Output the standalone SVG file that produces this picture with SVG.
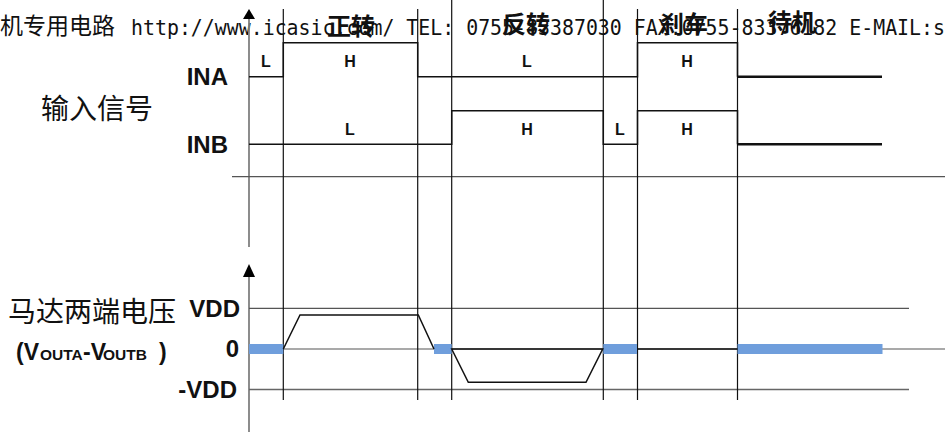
<svg xmlns="http://www.w3.org/2000/svg" width="945" height="432" viewBox="0 0 945 432">
<style>
.wm{font-family:"DejaVu Sans Mono","Liberation Mono",monospace;font-size:22px;fill:#111}
.wmc{font-family:"Noto Sans CJK SC",sans-serif;font-size:23px;fill:#111}
.hdr{font-family:"Noto Sans CJK SC",sans-serif;font-size:24px;font-weight:bold;fill:#111;text-anchor:middle}
.cjk{font-family:"Noto Sans CJK SC",sans-serif;font-size:28px;fill:#111}
.lbl{font-family:"Liberation Sans",Arial,sans-serif;font-weight:bold;font-size:24px;fill:#111;text-anchor:end}
.lv{font-family:"Liberation Sans",Arial,sans-serif;font-weight:bold;font-size:16px;fill:#111;text-anchor:middle}
.sub{font-family:"Liberation Sans",Arial,sans-serif;font-weight:bold;fill:#111}
.axis{stroke:#808080;stroke-width:1.8;fill:none}
.grid{stroke:#555;stroke-width:1.2;fill:none}
.vl{stroke:#111;stroke-width:1.2;fill:none}
.wave{stroke:#111;stroke-width:1.5;fill:none;stroke-linejoin:miter}
.wave2{stroke:#111;stroke-width:2.4;fill:none}
.bar{stroke:#6f9edc;stroke-width:10;fill:none}
</style>
<g id="watermark">
<text class="wmc" x="0" y="34">机专用电路</text>
<text class="wm" x="131" y="35" textLength="814" lengthAdjust="spacingAndGlyphs">http://www.icasic.com/ TEL: 0755-83387030 FAX:0755-83376182 E-MAIL:s</text>
</g>
<g id="headers">
<text class="hdr" x="351" y="35">正转</text>
<text class="hdr" x="526" y="33">反转</text>
<text class="hdr" x="684" y="33">刹车</text>
<text class="hdr" x="792" y="31">待机</text>
</g>
<g id="axes">
<line class="axis" x1="249" y1="247" x2="249" y2="17"/>
<path d="M243,19 L249,9 L255,19 Z" fill="#000"/>
<line class="axis" x1="249" y1="432" x2="249" y2="274"/>
<path d="M243,277 L249,264 L255,277 Z" fill="#000"/>
<line class="grid" x1="232" y1="176.7" x2="945" y2="176.7"/>
<line class="grid" x1="249" y1="308.3" x2="909" y2="308.3"/>
<line class="grid" x1="249" y1="349" x2="945" y2="349"/>
<line class="grid" x1="249" y1="389.5" x2="909" y2="389.5" style="stroke-width:1.6;stroke:#666"/>
</g>
<g id="phase-lines">
<line class="vl" x1="283.3" y1="9" x2="283.3" y2="400"/>
<line class="vl" x1="417.7" y1="9" x2="417.7" y2="400"/>
<line class="vl" x1="451.7" y1="0" x2="451.7" y2="400"/>
<line class="vl" x1="603.3" y1="0" x2="603.3" y2="400"/>
<line class="vl" x1="637.5" y1="9" x2="637.5" y2="400"/>
<line class="vl" x1="737.5" y1="9" x2="737.5" y2="400"/>
</g>
<g id="input-labels">
<text class="cjk" x="41" y="119">输入信号</text>
<text class="lbl" x="228" y="85">INA</text>
<text class="lbl" x="228" y="152.5">INB</text>
</g>
<g id="ina">
<path class="wave" d="M249,76.7 H283.3 V42.7 H417.7 V76.7 H637.5 V42.7 H737.5 V76.7"/>
<path class="wave2" d="M737.5,76.7 H882"/>
<text class="lv" x="266" y="66.5">L</text>
<text class="lv" x="350" y="66.5">H</text>
<text class="lv" x="527" y="66.5">L</text>
<text class="lv" x="687" y="66.5">H</text>
</g>
<g id="inb">
<path class="wave" d="M249,144.3 H451.7 V110.7 H603.3 V144.3 H637.5 V110.7 H737.5 V144.3"/>
<path class="wave2" d="M737.5,144.3 H882"/>
<text class="lv" x="350" y="134.5">L</text>
<text class="lv" x="527" y="134.5">H</text>
<text class="lv" x="620" y="134.5">L</text>
<text class="lv" x="687" y="134.5">H</text>
</g>
<g id="output-labels">
<text class="cjk" x="8" y="322">马达两端电压</text>
<text class="lbl" x="240" y="316.5">VDD</text>
<text class="lbl" x="239" y="357.3">0</text>
<text class="lbl" x="237" y="398">-VDD</text>
<text class="sub" font-size="23" x="16" y="360">(V</text>
<text class="sub" font-size="15.5" x="40" y="360">OUTA</text>
<text class="sub" font-size="23" x="83" y="360">-V</text>
<text class="sub" font-size="15.5" x="103" y="360">OUTB</text>
<text class="sub" font-size="23" x="159" y="360">)</text>
</g>
<g id="motor-voltage">
<line class="bar" x1="249" y1="349" x2="283.3" y2="349"/>
<line class="bar" x1="434" y1="349" x2="451.7" y2="349"/>
<line class="bar" x1="603.3" y1="349" x2="637" y2="349"/>
<line class="bar" x1="737.5" y1="349" x2="882.5" y2="349"/>
<path class="wave" d="M283.3,349 L300,315 H418.3 L434,349"/>
<path class="wave" d="M451.7,349 L468.3,382.3 H586 L602.7,349 Z"/>
<path class="wave" d="M637.5,349 H737.5"/>
</g>
</svg>
